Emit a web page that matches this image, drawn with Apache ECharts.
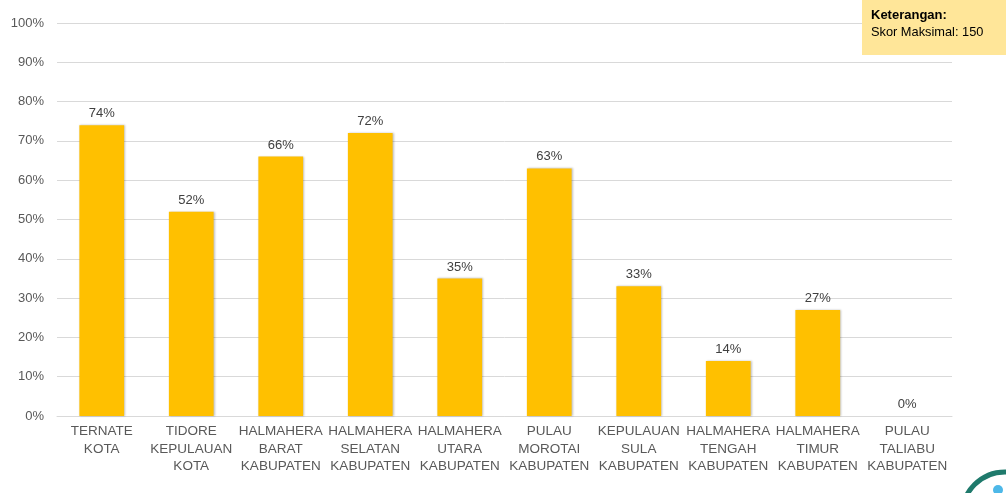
<!DOCTYPE html>
<html><head><meta charset="utf-8">
<script src="https://cdn.jsdelivr.net/npm/echarts@6/dist/echarts.min.js"></script>
<style>html,body{margin:0;padding:0;background:#fff}#c{width:1006px;height:493px}</style>
</head><body><div id="c"></div>
<script>
const categories = ["TERNATE\nKOTA","TIDORE\nKEPULAUAN\nKOTA","HALMAHERA\nBARAT\nKABUPATEN","HALMAHERA\nSELATAN\nKABUPATEN","HALMAHERA\nUTARA\nKABUPATEN","PULAU\nMOROTAI\nKABUPATEN","KEPULAUAN\nSULA\nKABUPATEN","HALMAHERA\nTENGAH\nKABUPATEN","HALMAHERA\nTIMUR\nKABUPATEN","PULAU\nTALIABU\nKABUPATEN"];
const values = [74,52,66,72,35,63,33,14,27,0];
const noteTitle = "Keterangan:";
const noteText = "Skor Maksimal: 150";

const chart = echarts.init(document.getElementById('c'));
chart.setOption({
  animation:false,
  grid:{left:57,right:54,top:23,bottom:77,containLabel:false},
  xAxis:{type:'category',data:categories,
    axisLine:{lineStyle:{color:'#d9d9d9'}},axisTick:{show:false},
    axisLabel:{interval:0,color:'#595959',fontFamily:'Liberation Sans',fontSize:13.5,lineHeight:17.5,margin:7}},
  yAxis:{type:'value',min:0,max:100,interval:10,
    axisLabel:{formatter:'{value}%',color:'#595959',fontFamily:'Liberation Sans',fontSize:13,margin:13},
    splitLine:{lineStyle:{color:'#d9d9d9'}},axisLine:{show:false},axisTick:{show:false}},
  series:[{type:'bar',data:values,barWidth:'50%',
    itemStyle:{color:'#FFC000',shadowColor:'rgba(0,0,0,0.25)',shadowBlur:2,shadowOffsetX:1,shadowOffsetY:0},
    label:{show:true,position:'top',formatter:'{c}%',color:'#404040',fontFamily:'Liberation Sans',fontSize:13,distance:5}}],
  graphic:[
    {type:'rect',shape:{x:862,y:0,width:144,height:55},style:{fill:'#FFE699'},z:10},
    {type:'text',x:871,y:9,style:{text:noteTitle,font:'bold 13px "Liberation Sans"',fill:'#000'},z:11},
    {type:'text',x:871,y:26,style:{text:noteText,font:'12.8px "Liberation Sans"',fill:'#000'},z:11},
    {type:'circle',shape:{cx:1005,cy:515,r:43},style:{fill:'#fff',stroke:'#1f7a6c',lineWidth:5},z:10},
    {type:'circle',shape:{cx:998,cy:490,r:5},style:{fill:'#4db8e8'},z:11}
  ]
});
</script></body></html>
